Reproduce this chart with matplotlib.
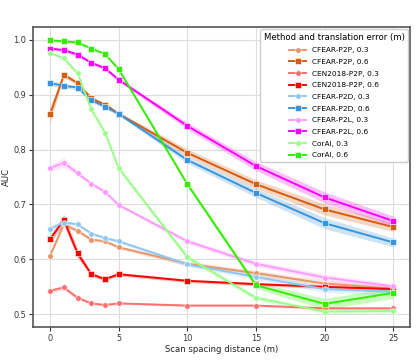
import matplotlib
matplotlib.use("Agg")
import matplotlib.pyplot as plt
import numpy as np

distances = [0, 1, 2, 3, 4, 5, 10, 15, 20, 25]

labels = ["CFEAR-P2P, 0.3", "CFEAR-P2P, 0.6", "CEN2018-P2P, 0.3", "CEN2018-P2P, 0.6",
          "CFEAR-P2D, 0.3", "CFEAR-P2D, 0.6", "CFEAR-P2L, 0.3", "CFEAR-P2L, 0.6",
          "CorAl, 0.3", "CorAl, 0.6"]

p2p_03 = [0.607, 0.664, 0.652, 0.636, 0.633, 0.622, 0.592, 0.575, 0.556, 0.547]
p2p_06 = [0.864, 0.936, 0.921, 0.893, 0.882, 0.865, 0.794, 0.737, 0.691, 0.659]
cen_03 = [0.543, 0.549, 0.530, 0.520, 0.517, 0.520, 0.516, 0.516, 0.511, 0.511]
cen_06 = [0.637, 0.672, 0.611, 0.573, 0.564, 0.573, 0.561, 0.555, 0.550, 0.546]
p2d_03 = [0.656, 0.667, 0.664, 0.647, 0.639, 0.633, 0.591, 0.568, 0.546, 0.541]
p2d_06 = [0.921, 0.916, 0.913, 0.890, 0.878, 0.865, 0.781, 0.721, 0.666, 0.631]
p2l_03 = [0.766, 0.776, 0.757, 0.738, 0.723, 0.699, 0.633, 0.592, 0.567, 0.551]
p2l_06 = [0.984, 0.981, 0.973, 0.958, 0.948, 0.927, 0.843, 0.770, 0.713, 0.670]
coral_03 = [0.976, 0.966, 0.939, 0.873, 0.831, 0.766, 0.604, 0.530, 0.505, 0.506]
coral_06 = [0.999, 0.997, 0.995, 0.984, 0.974, 0.946, 0.737, 0.553, 0.519, 0.539]

# confidence band half-widths
ci_p2p_03 = [0.004, 0.004, 0.003, 0.003, 0.003, 0.003, 0.004, 0.005, 0.006, 0.006]
ci_p2p_06 = [0.015, 0.005, 0.004, 0.004, 0.003, 0.003, 0.007, 0.008, 0.010, 0.008]
ci_cen_03 = [0.003, 0.004, 0.003, 0.002, 0.002, 0.002, 0.002, 0.002, 0.002, 0.002]
ci_cen_06 = [0.006, 0.010, 0.008, 0.004, 0.003, 0.003, 0.003, 0.003, 0.003, 0.003]
ci_p2d_03 = [0.005, 0.004, 0.003, 0.003, 0.003, 0.003, 0.004, 0.005, 0.006, 0.006]
ci_p2d_06 = [0.005, 0.004, 0.004, 0.004, 0.003, 0.003, 0.006, 0.008, 0.010, 0.008]
ci_p2l_03 = [0.006, 0.009, 0.004, 0.003, 0.003, 0.003, 0.004, 0.005, 0.006, 0.005]
ci_p2l_06 = [0.003, 0.003, 0.003, 0.003, 0.003, 0.003, 0.006, 0.008, 0.010, 0.009]
ci_coral_03 = [0.003, 0.003, 0.004, 0.004, 0.004, 0.004, 0.005, 0.005, 0.004, 0.004]
ci_coral_06 = [0.002, 0.002, 0.002, 0.002, 0.002, 0.003, 0.004, 0.006, 0.010, 0.010]

series = [p2p_03, p2p_06, cen_03, cen_06, p2d_03, p2d_06, p2l_03, p2l_06, coral_03, coral_06]
bands = [ci_p2p_03, ci_p2p_06, ci_cen_03, ci_cen_06, ci_p2d_03, ci_p2d_06,
         ci_p2l_03, ci_p2l_06, ci_coral_03, ci_coral_06]
colors = ["#e8956a", "#d45d12", "#ff6f6f", "#ff0000", "#8ec8f0", "#3a94dc",
          "#ff99ff", "#ff00ff", "#99ff88", "#33ee00"]
markers = ["o", "s"] * 5

plt.rcParams['font.family'] = ['DejaVu Sans']
fig = plt.figure(figsize=(4.19, 3.6), dpi=100)
ax = fig.add_axes([33 / 419, 1 - 326.7 / 360, (410.3 - 33) / 419, (326.7 - 26.7) / 360])

x = np.array(distances)
for vals, ci, c, m, lab in zip(series, bands, colors, markers, labels):
    v = np.array(vals)
    e = np.array(ci)
    ax.fill_between(x, v - e, v + e, color=c, alpha=0.25, linewidth=0)
    ax.plot(x, v, color=c, marker=m, markersize=4, markeredgecolor="white",
            markeredgewidth=0.4, linewidth=1.4, label=lab)

ax.set_xlim(-1.25, 26.25)
ax.set_ylim(0.4775, 1.0237)
ax.set_xticks([0, 5, 10, 15, 20, 25])
ax.set_yticks([0.5, 0.6, 0.7, 0.8, 0.9, 1.0])
ax.grid(True, color="#dddddd", linewidth=0.8)
ax.set_axisbelow(True)
for s in ax.spines.values():
    s.set_color("#555555")
    s.set_linewidth(1.2)
ax.tick_params(labelsize=5.9, colors="#333333", length=3, width=0.8, pad=2)
ax.set_xlabel("Scan spacing distance (m)", fontsize=6.1, color="#222222", labelpad=2)
ax.set_ylabel("AUC", fontsize=6.1, color="#222222", labelpad=1.5)

leg = ax.legend(title="Method and translation error (m)", loc="upper right",
                fontsize=5.3, title_fontsize=6.1, frameon=True, labelspacing=0.75,
                handlelength=2.3, borderaxespad=0.35, borderpad=0.45)
leg.get_frame().set_edgecolor("#cccccc")
leg.get_frame().set_alpha(1.0)

fig.savefig("out.png", dpi=100)
